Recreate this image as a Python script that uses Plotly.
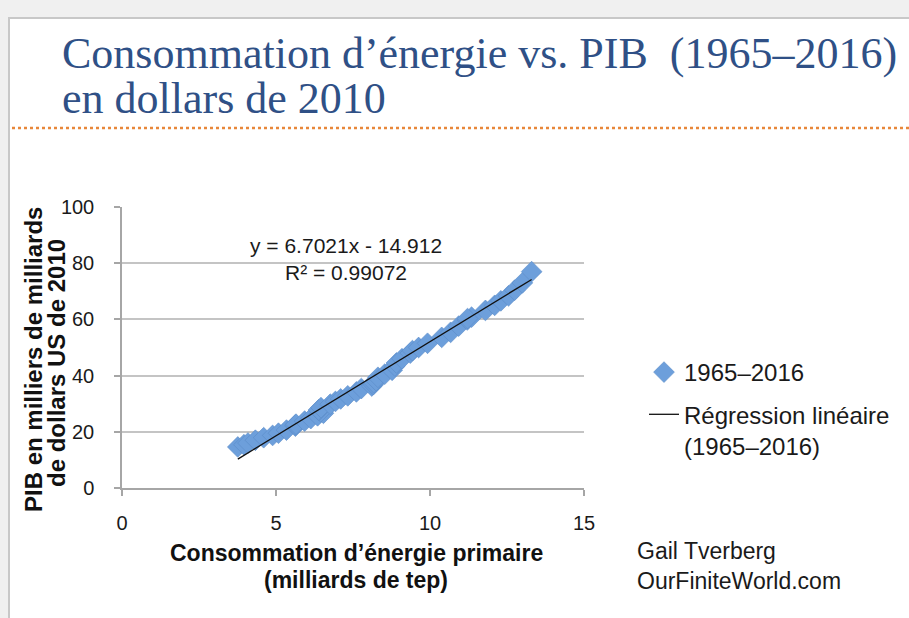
import plotly.graph_objects as go

# Data: world primary energy (billion toe) vs world GDP (thousand billion 2010 USD)
years = list(range(1965, 2017))
energy = [3.76, 3.96, 4.09, 4.33, 4.60, 4.89, 5.08, 5.34, 5.63, 5.62,
          5.65, 5.93, 6.13, 6.35, 6.54, 6.45, 6.40, 6.38, 6.46, 6.76,
          6.93, 7.10, 7.33, 7.61, 7.77, 8.11, 8.16, 8.17, 8.25, 8.31,
          8.53, 8.77, 8.86, 8.91, 9.09, 9.36, 9.43, 9.63, 9.92, 10.38,
          10.67, 10.93, 11.21, 11.35, 11.22, 11.80, 12.10, 12.30, 12.55, 12.75,
          13.00, 13.30]
gdp = [14.6, 15.4, 16.0, 17.0, 17.9, 18.7, 19.5, 20.6, 22.0, 22.4,
       22.7, 23.8, 24.7, 25.7, 26.6, 27.1, 27.6, 27.8, 28.6, 29.8,
       30.8, 31.7, 32.8, 34.2, 35.4, 36.3, 36.8, 37.5, 38.2, 39.4,
       40.5, 41.9, 43.4, 44.5, 46.0, 48.0, 48.9, 50.0, 51.5, 53.6,
       55.4, 57.6, 59.8, 60.8, 60.3, 63.2, 65.0, 66.6, 68.4, 70.4,
       73.0, 77.0]

slope = 6.7021
intercept = -14.912
r2 = 0.99072

x_ticks = [0, 5, 10, 15]
y_ticks = [0, 20, 40, 60, 80, 100]

series_name = "1965–2016"
fit_name = "Régression linéaire<br>(1965–2016)"

x_fit = [min(energy), max(energy)]
y_fit = [slope * v + intercept for v in x_fit]

# plot area in pixels (layout helpers)
L, R, T, B = 122, 584, 207, 488
def px(x):
    return (x - L) / (R - L)
def py(y):
    return (B - y) / (B - T)

fig = go.Figure()
fig.add_trace(go.Scatter(
    x=energy, y=gdp, mode="markers", name=series_name, legendgroup="data",
    marker=dict(symbol="diamond", size=16, color="#6d9fdb",
                line=dict(width=0.6, color="#5b8cc8")),
    hoverinfo="x+y",
))
fig.add_trace(go.Scatter(
    x=x_fit, y=y_fit, mode="lines", name=fit_name, legendgroup="fit",
    line=dict(color="#111111", width=1.3),
))

sans = "Liberation Sans"
dark = "#1a1a1a"

fig.update_layout(
    width=909, height=618, autosize=False,
    paper_bgcolor="#f0f0f0", plot_bgcolor="rgba(0,0,0,0)",
    margin=dict(l=L, r=909 - R, t=T, b=618 - B),
    showlegend=True,
    legend=dict(
        x=px(644), y=py(350), xanchor="left", yanchor="top",
        font=dict(family=sans, size=24, color=dark),
        bgcolor="rgba(0,0,0,0)", valign="top",
        traceorder="grouped", tracegroupgap=8,
    ),
    xaxis=dict(
        range=[0, 15], tickvals=x_ticks, showgrid=False, zeroline=False,
        showline=True, linecolor="#a6a6a6", linewidth=1.5,
        ticks="outside", ticklen=6, tickcolor="#a6a6a6", tickwidth=1.5,
        ticklabelstandoff=10,
        tickfont=dict(family=sans, size=20, color=dark),
    ),
    yaxis=dict(
        range=[0, 100], tickvals=y_ticks, showgrid=True, gridcolor="#c4c4c4", gridwidth=1.5,
        zeroline=False,
        showline=True, linecolor="#a6a6a6", linewidth=1.5,
        ticks="outside", ticklen=6, tickcolor="#a6a6a6", tickwidth=1.5,
        ticklabelstandoff=16,
        tickfont=dict(family=sans, size=20, color=dark),
    ),
    shapes=[
        dict(type="rect", xref="paper", yref="paper", layer="below",
             x0=px(9), x1=px(915), y0=py(625), y1=py(18),
             fillcolor="white", line=dict(color="#c8c8c8", width=2)),
        dict(type="line", xref="paper", yref="paper",
             x0=px(12), x1=px(909), y0=py(128), y1=py(128),
             line=dict(color="#e8873a", width=2.5, dash="dot")),
    ],
    annotations=[
        dict(text="Consommation d’énergie vs. PIB  (1965–2016)",
             xref="paper", yref="paper", x=px(60), y=py(53),
             xanchor="left", yanchor="middle", showarrow=False,
             font=dict(family="Liberation Serif", size=44, color="#2f5086")),
        dict(text="en dollars de 2010",
             xref="paper", yref="paper", x=px(60), y=py(99),
             xanchor="left", yanchor="middle", showarrow=False,
             font=dict(family="Liberation Serif", size=44, color="#2f5086")),
        dict(text=f"y = {slope}x - {abs(intercept)}<br>R² = {r2}",
             xref="paper", yref="paper", x=px(346), y=py(259),
             xanchor="center", yanchor="middle", align="center", showarrow=False,
             font=dict(family=sans, size=21, color=dark)),
        dict(text="<b>Consommation d’énergie primaire</b>",
             xref="paper", yref="paper", x=px(356), y=py(553),
             xanchor="center", yanchor="middle", showarrow=False,
             font=dict(family=sans, size=23, color="#111111")),
        dict(text="<b>(milliards de tep)</b>",
             xref="paper", yref="paper", x=px(356), y=py(580),
             xanchor="center", yanchor="middle", showarrow=False,
             font=dict(family=sans, size=23, color="#111111")),
        dict(text="<b>PIB en milliers de milliards</b>",
             xref="paper", yref="paper", x=px(33), y=py(360), textangle=-90,
             xanchor="center", yanchor="middle", showarrow=False,
             font=dict(family=sans, size=24, color="#111111")),
        dict(text="<b>de dollars US de 2010</b>",
             xref="paper", yref="paper", x=px(56), y=py(363), textangle=-90,
             xanchor="center", yanchor="middle", showarrow=False,
             font=dict(family=sans, size=24, color="#111111")),
        dict(text="Gail Tverberg<br>OurFiniteWorld.com",
             xref="paper", yref="paper", x=px(635), y=py(566),
             xanchor="left", yanchor="middle", align="left", showarrow=False,
             font=dict(family=sans, size=23, color=dark)),
    ],
)

fig.write_html("out.html", config={"displayModeBar": False},
               post_script="document.body.style.margin='0';")
